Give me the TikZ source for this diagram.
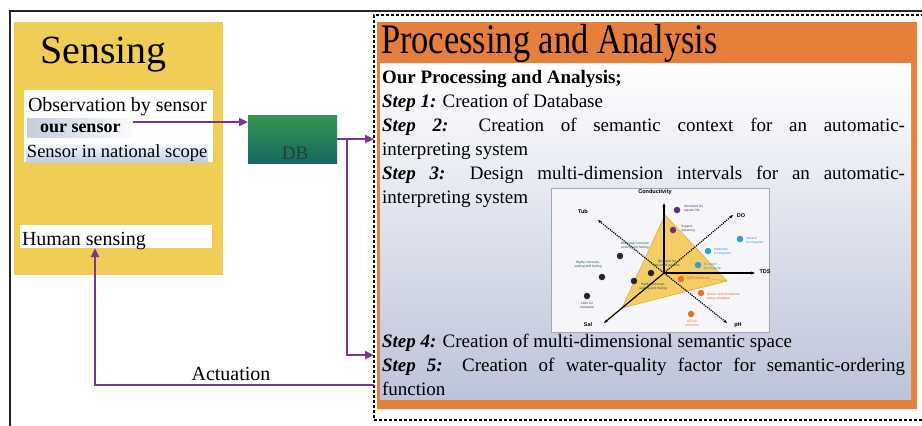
\documentclass[tikz,border=0pt]{standalone}
\usepackage{fontspec}
\setmainfont{Liberation Serif}
\newfontfamily\condfont[FakeStretch=0.82]{Liberation Serif}
\newfontfamily\chartfont{Liberation Sans}
\usetikzlibrary{arrows.meta,calc}

\definecolor{sensyellow}{RGB}{240,206,86}
\definecolor{procorange}{RGB}{230,126,60}
\definecolor{flowpurple}{RGB}{120,55,145}
\definecolor{innerblue}{RGB}{188,196,218}
\definecolor{natblue}{RGB}{190,204,228}
\definecolor{oursleft}{RGB}{196,206,222}
\definecolor{dbtop}{RGB}{52,150,82}
\definecolor{dbbot}{RGB}{22,104,96}
\definecolor{dbtext}{RGB}{40,62,52}
\definecolor{chartbg}{RGB}{246,246,250}
\definecolor{trifill}{RGB}{245,198,78}
\definecolor{triedge}{RGB}{222,160,50}
\definecolor{dotpurple}{RGB}{100,50,120}
\definecolor{dotblue}{RGB}{40,160,220}
\definecolor{dotorange}{RGB}{240,110,30}
\definecolor{lbldark}{RGB}{30,80,80}

\newcommand{\stp}[1]{\textbf{\textit{Step #1:}}}

\begin{document}
\begin{tikzpicture}[x=1pt, y=-1pt,
  every node/.style = {inner sep=0pt, outer sep=0pt},
  box/.style = {anchor=north west},
  flow/.style = {draw=flowpurple, line width=2.4pt},
  flowarr/.style = {flow, -{Triangle[length=9pt,width=8pt]}},
  chartdot/.style = {circle, fill=#1, minimum size=6.5pt},
  smalllbl/.style = {font=\chartfont\fontsize{3.3}{3.8}\selectfont, align=center, text=#1},
  axislbl/.style = {font=\chartfont\bfseries\fontsize{5.5}{6}\selectfont},
  chartaxis/.style = {draw=black, line width=1.2pt, -{Stealth[length=4pt]}},
  dotaxis/.style = {chartaxis, densely dotted}]

\clip (0,0) rectangle (922,426);
\fill[white] (0,0) rectangle (922,426);
\draw[line width=1.6pt, black!85] (930,11) -| (10,440);

% sensing side
\node[box, fill=sensyellow, minimum width=209pt, minimum height=253pt] (sensing) at (14,22) {};
\node[anchor=base west, font=\fontsize{40}{44}\selectfont] (senstitle) at (40,63) {Sensing};
\node[box, fill=white, minimum width=189pt, minimum height=72pt] (obsbox) at (24,90) {};
\node[anchor=base west, font=\fontsize{20}{24}\selectfont] (obs) at (28,111) {Observation by sensor};
\node[box, left color=oursleft, right color=white!92!oursleft, minimum width=106pt, minimum height=19pt] (oursensorbg) at (27,118) {};
\node[anchor=base west, font=\fontsize{18}{22}\selectfont\bfseries] (oursensor) at (40,132) {our sensor};
\node[box, top color=white, bottom color=natblue, minimum width=182pt, minimum height=20pt] (nationalbg) at (26,142) {};
\node[anchor=base west, font=\fontsize{18.5}{22}\selectfont] (national) at (27,157) {Sensor in national scope};
\node[box, fill=white, minimum width=192pt, minimum height=23pt] (human) at (20,225) {};
\node[anchor=base west, font=\fontsize{20}{24}\selectfont] (humanlbl) at (22,245) {Human sensing};

% database
\node[box, top color=dbtop, bottom color=dbbot, minimum width=89pt, minimum height=48pt] (db) at (248,115) {};
\node[anchor=base, text=dbtext, font=\fontsize{19}{22}\selectfont] (dblbl) at (295,159) {DB};

% processing side
\node[box, draw=black, densely dashed, line width=1.2pt, minimum width=600pt, minimum height=405pt] (dashbox) at (374,15) {};
\node[box, fill=procorange, minimum width=540pt, minimum height=387pt] (procbox) at (377,22) {};
\node[box, top color=white, bottom color=innerblue, minimum width=531pt, minimum height=336pt] (inner) at (380,63) {};
\node[anchor=base west, font=\condfont\fontsize{42}{46}\selectfont] (proctitle) at (381,53) {Processing and Analysis};

\node[anchor=north west, text width=523pt, align=justify, font=\fontsize{19}{24}\selectfont] (stepsA) at (382,66.2)
  {\parindent=0pt\strut\textbf{Our Processing and Analysis;}\par
   \stp{1} Creation of Database\par
   \stp{2} Creation of semantic context for an automatic-\linebreak interpreting system\par
   \stp{3} Design multi-dimension intervals for an automatic-\linebreak interpreting system};
\node[anchor=north west, text width=523pt, align=justify, font=\fontsize{19}{24}\selectfont] (stepsB) at (382,330.2)
  {\parindent=0pt\strut\stp{4} Creation of multi-dimensional semantic space\par
   \stp{5} Creation of water-quality factor for semantic-ordering\linebreak function};

% semantic space chart
\node[box, draw=gray!70, fill=chartbg, line width=0.8pt, minimum width=218pt, minimum height=144pt] (chart) at (551,188) {};
\coordinate (origin) at (664,273);
\coordinate (condtip) at (664,203);
\coordinate (tdstip) at (755,273);
\coordinate (saltip) at (604,323);
\coordinate (tubtip) at (598,220);
\coordinate (dotip) at (733,215);
\coordinate (phtip) at (727,323);
\fill[trifill, opacity=0.85] (665,215) -- (727,281) -- (622,308) -- cycle;
\draw[triedge, line width=0.5pt] (665,215) -- (727,281) -- (622,308) -- cycle;
\draw[triedge, line width=0.4pt] (origin) -- (727,281);
\draw[chartaxis] (origin) -- (condtip);
\draw[chartaxis] (origin) -- (tdstip);
\draw[chartaxis] (origin) -- (saltip);
\draw[dotaxis] (origin) -- (tubtip);
\draw[dotaxis] (origin) -- (dotip);
\draw[dotaxis] (origin) -- (phtip);
\node[axislbl] (condlbl) at (655,192) {Conductivity};
\node[axislbl] (tublbl) at (583,212) {Tub};
\node[axislbl] (dolbl) at (741,216) {DO};
\node[axislbl] (tdslbl) at (765,272) {TDS};
\node[axislbl] (sallbl) at (588,325) {Sal};
\node[axislbl] (phlbl) at (738,325) {pH};

\node[chartdot=dotpurple] (p1) at (677,210) {};
\node[chartdot=dotpurple] (p2) at (673,230) {};
\node[chartdot=black!85] (k1) at (620,256) {};
\node[chartdot=black!85] (k2) at (602,277) {};
\node[chartdot=black!85] (k3) at (587,296) {};
\node[chartdot=black!85] (k4) at (634,281) {};
\node[chartdot=black!85] (k5) at (651,273) {};
\node[chartdot=dotblue] (b1) at (740,239) {};
\node[chartdot=dotblue] (b2) at (708,251) {};
\node[chartdot=dotblue] (b3) at (698,265) {};
\node[chartdot=dotorange] (o1) at (681,279) {};
\node[chartdot=dotorange] (o2) at (701,293) {};
\node[chartdot=dotorange] (o3) at (691,314) {};

\node[smalllbl=dotpurple, anchor=west, align=left] (p1lbl) at (684,209) {Abundant for\\aquatic life};
\node[smalllbl=dotpurple, anchor=west, align=left] (p2lbl) at (681,229) {Support\\spawning};
\node[smalllbl=lbldark] (k1lbl) at (635,246) {Moderate corrosion\\scaling and fouling};
\node[smalllbl=lbldark] (k2lbl) at (588,265) {Highly corrosive,\\scaling and fouling};
\node[smalllbl=lbldark] (k3lbl) at (587,305) {Little for\\industrial};
\node[smalllbl=lbldark] (k4lbl) at (653,287) {Highly corrosive,\\scaling and fouling};
\node[smalllbl=lbldark] (k5lbl) at (667,264) {Optimum for\\industrial process};
\node[smalllbl=dotblue, anchor=west, align=left] (b1lbl) at (746,241) {Hazard\\for irrigation};
\node[smalllbl=dotblue, anchor=west, align=left] (b2lbl) at (714,252) {Moderate\\for irrigation};
\node[smalllbl=dotblue, anchor=west, align=left] (b3lbl) at (704,267) {Excellent\\for irrigation};
\node[smalllbl=dotorange, anchor=west, align=left] (o1lbl) at (686,279) {Optimum for fish};
\node[smalllbl=dotorange, anchor=west, align=left] (o2lbl) at (707,297) {Anoxic and phosphate\\being disappear};
\node[smalllbl=dotorange] (o3lbl) at (692,323) {All fish\\extinction};

% connectors
\coordinate (split) at ($(db.east)+(10,0)$);
\coordinate (step4in) at (374,355);
\coordinate (actout) at (374,385);
\draw[flowarr] ([yshift=5.5pt]oursensorbg.east) -- ([yshift=5.5pt]oursensorbg.east -| db.west);
\draw[flowarr] (db.east) -- (db.east -| dashbox.west);
\draw[flowarr] (split) |- (step4in);
\draw[flowarr] (actout) -| ([xshift=-21pt]human.south);
\node[anchor=base, font=\fontsize{20}{24}\selectfont] (actlbl) at (231,380) {Actuation};
\end{tikzpicture}
\end{document}
